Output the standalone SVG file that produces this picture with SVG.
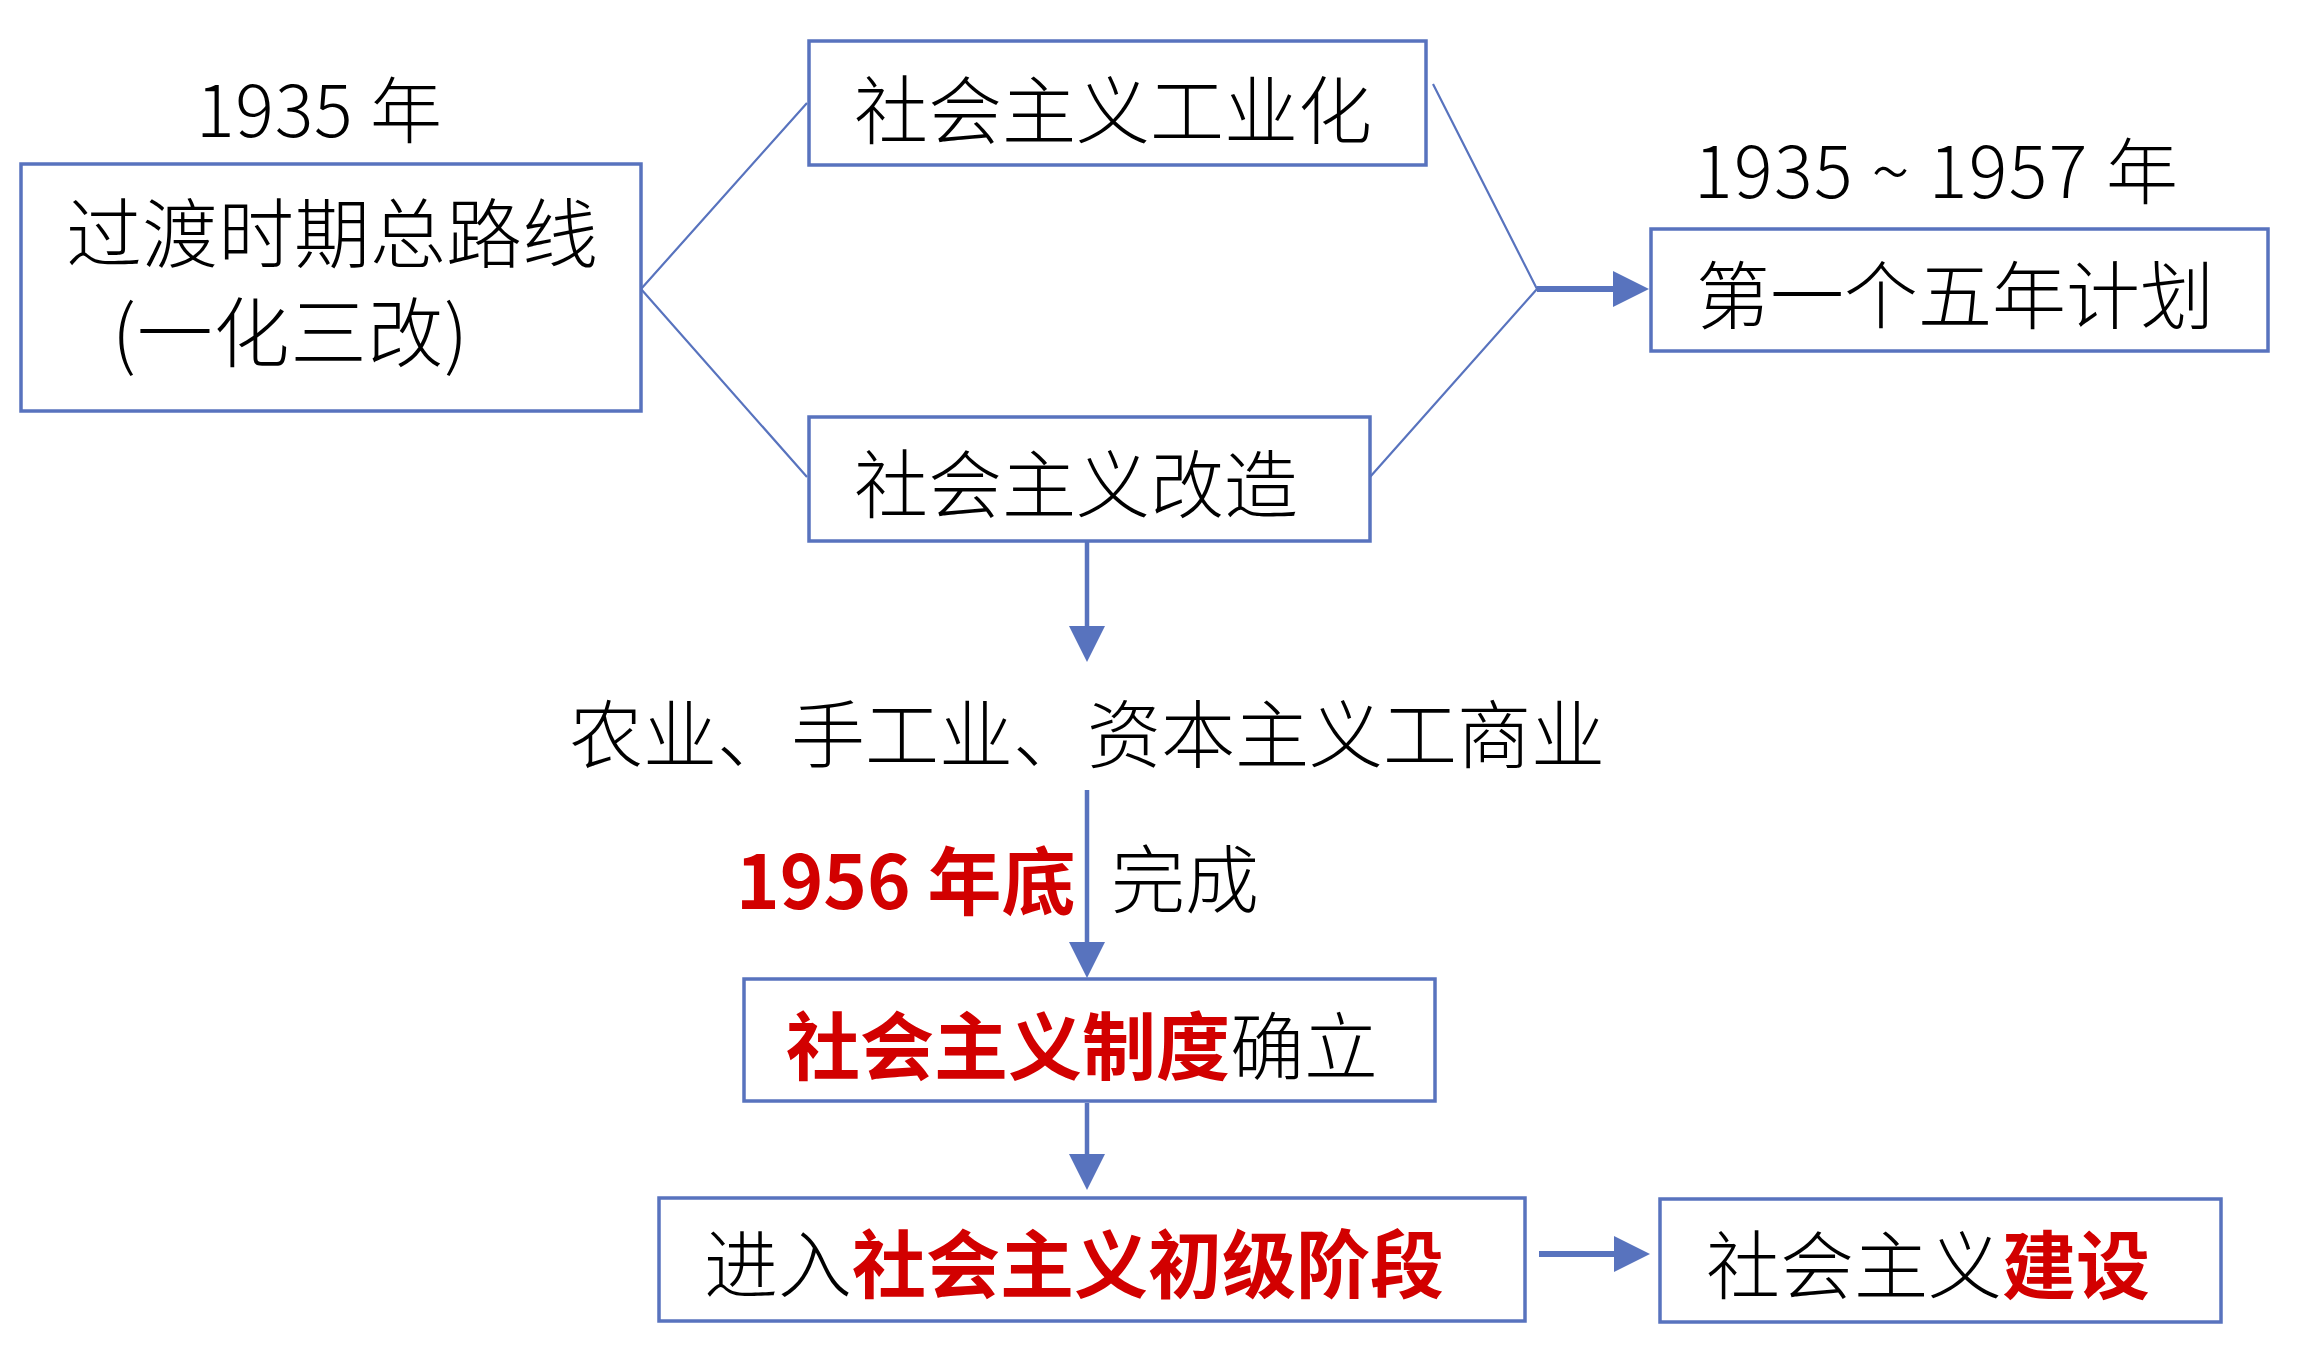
<svg xmlns="http://www.w3.org/2000/svg" width="2302" height="1355" viewBox="0 0 2302 1355">
<defs>
<style>
.box{fill:#fff;stroke:#5873BE;stroke-width:3.5}
.t{font-family:"Noto Sans CJK SC","Noto Sans",sans-serif;font-size:74px;font-weight:300;fill:#000}
.r{fill:#D20000;font-weight:bold}
.thin{stroke:#5873BE;stroke-width:2.2;fill:none}
.arr{stroke:#5873BE;stroke-width:4.5;fill:none;marker-end:url(#ah)}
.arrh{stroke-width:6}
</style>
<marker id="ah" viewBox="0 -18 36 36" refX="0" refY="0" markerWidth="36" markerHeight="36" markerUnits="userSpaceOnUse" orient="auto">
<path d="M0,-18 L36,0 L0,18 z" fill="#5873BE"/>
</marker>
</defs>
<rect width="2302" height="1355" fill="#fff"/>
<g id="connectors">
<polyline class="thin" points="807,103 641,289 807,477"/>
<polyline class="thin" points="1433,84 1537,289 1370,477"/>
<line class="arr arrh" x1="1537" y1="289" x2="1613" y2="289"/>
<line class="arr" x1="1087" y1="541" x2="1087" y2="626"/>
<line class="arr" x1="1087" y1="790" x2="1087" y2="942"/>
<line class="arr" x1="1087" y1="1103" x2="1087" y2="1154"/>
<line class="arr arrh" x1="1539" y1="1254" x2="1614" y2="1254"/>
</g>
<g id="label-1935">
<text class="t" x="196" y="137" style="font-size:72px" textLength="246">1935 年</text>
</g>
<g id="node-guodu">
<rect class="box" x="21" y="164" width="620" height="247"/>
<text class="t" x="66" y="262" style="font-size:76px">过渡时期总路线</text>
<text class="t" x="112" y="361" style="font-size:76px" textLength="356">(一化三改)</text>
</g>
<g id="node-gongyehua">
<rect class="box" x="809" y="41" width="617" height="124"/>
<text class="t" x="854" y="138">社会主义工业化</text>
</g>
<g id="node-gaizao">
<rect class="box" x="809" y="417" width="561" height="124"/>
<text class="t" x="854" y="512">社会主义改造</text>
</g>
<g id="label-1935-1957">
<text class="t" x="1694" y="198" style="font-size:72px" textLength="484">1935 ~ 1957 年</text>
</g>
<g id="node-wunian">
<rect class="box" x="1651" y="229" width="617" height="122"/>
<text class="t" x="1696" y="323">第一个五年计划</text>
</g>
<g id="label-nongye">
<text class="t" x="569" y="762">农业、手工业、资本主义工商业</text>
</g>
<g id="label-1956">
<text class="t" x="736" y="909"><tspan class="r">1956 年底</tspan></text>
<text class="t" x="1111" y="907">完成</text>
</g>
<g id="node-zhidu">
<rect class="box" x="744" y="979" width="691" height="122"/>
<text class="t" x="786" y="1074"><tspan class="r">社会主义制度</tspan>确立</text>
</g>
<g id="node-chuji">
<rect class="box" x="659" y="1198" width="866" height="123"/>
<text class="t" x="704" y="1292">进入<tspan class="r">社会主义初级阶段</tspan></text>
</g>
<g id="node-jianshe">
<rect class="box" x="1660" y="1199" width="561" height="123"/>
<text class="t" x="1706" y="1293">社会主义<tspan class="r">建设</tspan></text>
</g>
</svg>
